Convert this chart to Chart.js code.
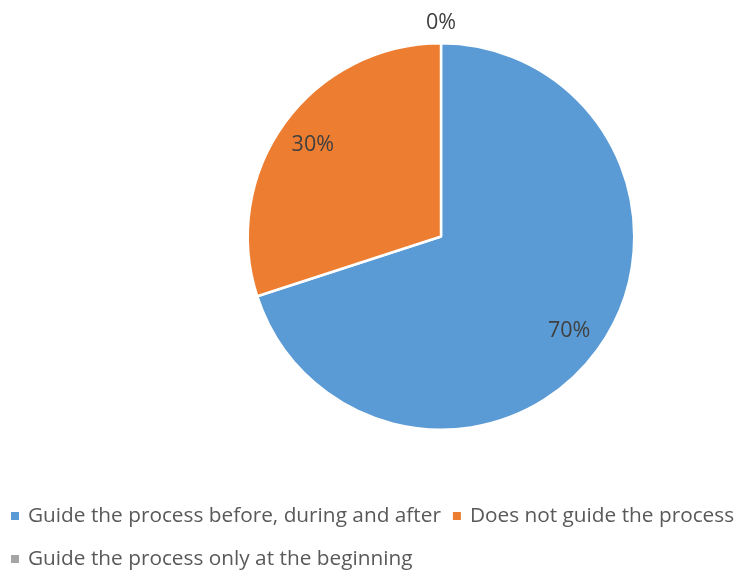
<!DOCTYPE html>
<html>
<head>
<meta charset="utf-8">
<script src="https://cdn.jsdelivr.net/npm/chart.js@4/dist/chart.umd.min.js"></script>
<style>
  html, body { margin: 0; padding: 0; background: #ffffff; }
  #wrap { position: relative; width: 738px; height: 573px; }
</style>
</head>
<body>
<div id="wrap"><canvas id="pie"></canvas></div>
<script>
// ---- data ----
const categories = [
    'Guide the process before, during and after',
    'Does not guide the process',
    'Guide the process only at the beginning'
];
const shares = [70, 30, 0];
const sliceColors = ['#5B9BD5', '#ED7D31', '#A5A5A5'];

const FONT = '"Open Sans", "DejaVu Sans", sans-serif';

// percentage labels on each slice (zero slices get pushed outside the rim)
const sliceLabels = {
    id: 'sliceLabels',
    afterDatasetsDraw(chart) {
        const ctx = chart.ctx;
        const meta = chart.getDatasetMeta(0);
        const total = shares.reduce((a, b) => a + b, 0);
        ctx.save();
        ctx.font = '21.5px ' + FONT;
        ctx.fillStyle = '#404040';
        ctx.textAlign = 'center';
        ctx.textBaseline = 'middle';
        meta.data.forEach((arc, i) => {
            const p = arc.getProps(['x', 'y', 'startAngle', 'endAngle', 'outerRadius'], true);
            const mid = (p.startAngle + p.endAngle) / 2;
            const r = shares[i] === 0 ? p.outerRadius + 22 : p.outerRadius * 0.82;
            const pct = Math.round(shares[i] / total * 100) + '%';
            ctx.fillText(pct, p.x + Math.cos(mid) * r, p.y + Math.sin(mid) * r + 1.5);
        });
        ctx.restore();
    }
};

// legend under the pie: two items on the first row, one on the second
const bottomLegend = {
    id: 'bottomLegend',
    afterDraw(chart) {
        const ctx = chart.ctx;
        ctx.save();
        ctx.font = '20.8px ' + FONT;
        ctx.textBaseline = 'middle';
        const rows = [[0, 1], [2]];
        const rowY = [516, 559];
        rows.forEach((row, ri) => {
            let x = 11;
            row.forEach(i => {
                ctx.fillStyle = sliceColors[i];
                ctx.fillRect(x, rowY[ri] - 4, 8, 8);
                ctx.fillStyle = '#595959';
                ctx.textAlign = 'left';
                ctx.fillText(categories[i], x + 17, rowY[ri]);
                x += 17 + ctx.measureText(categories[i]).width + 12;
            });
        });
        ctx.restore();
    }
};

new Chart(document.getElementById('pie'), {
    type: 'pie',
    data: {
        labels: categories,
        datasets: [{
            data: shares,
            backgroundColor: sliceColors,
            borderColor: '#ffffff',
            borderWidth: 2.5
        }]
    },
    options: {
        responsive: true,
        maintainAspectRatio: false,
        animation: false,
        layout: { padding: { left: 144, right: 0, top: 42, bottom: 142 } },
        plugins: {
            legend: { display: false },
            tooltip: { enabled: false }
        }
    },
    plugins: [sliceLabels, bottomLegend]
});
</script>
</body>
</html>
